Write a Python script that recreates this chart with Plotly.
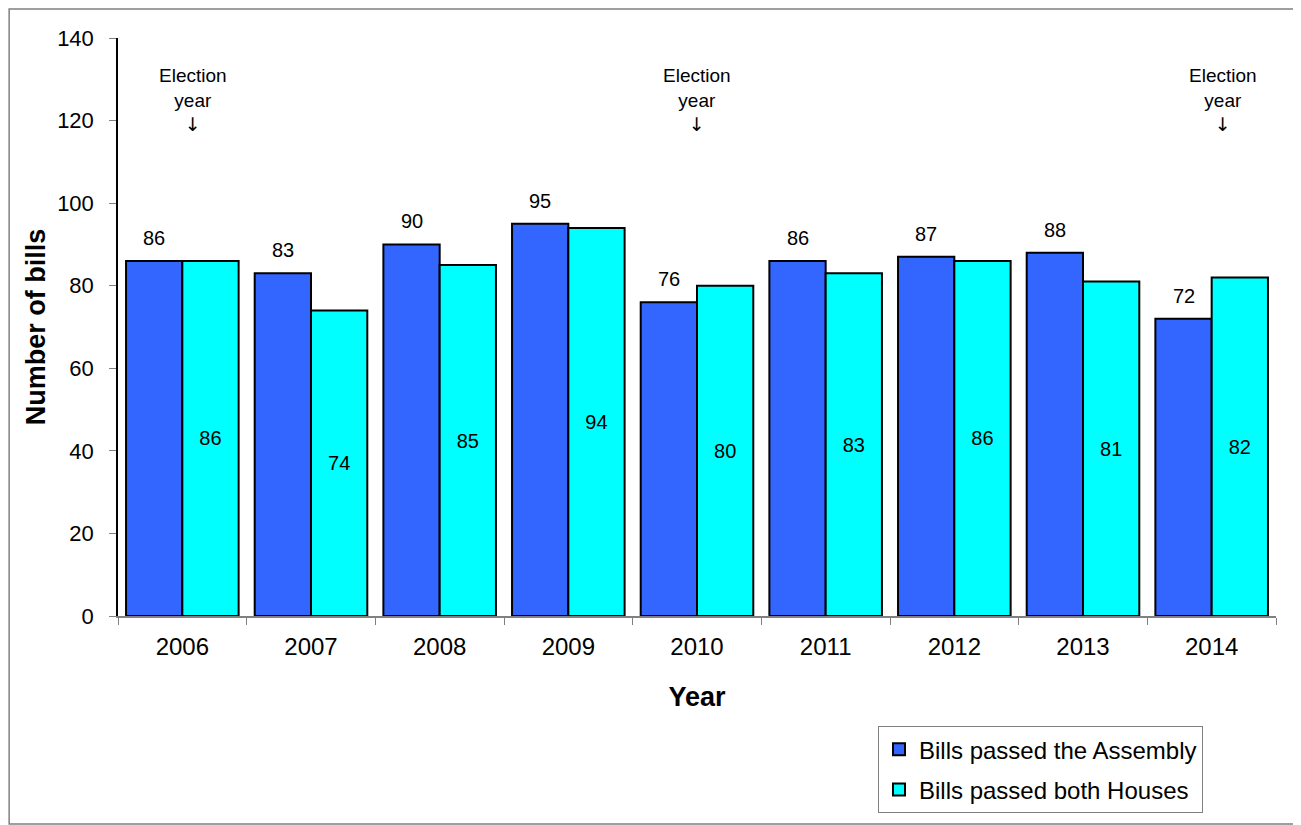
import plotly.graph_objects as go

years = ["2006", "2007", "2008", "2009", "2010", "2011", "2012", "2013", "2014"]
assembly = [86, 83, 90, 95, 76, 86, 87, 88, 72]
both_houses = [86, 74, 85, 94, 80, 83, 86, 81, 82]
election_years = ["2006", "2010", "2014"]
election_label = "Election<br>year<br><span style='font-family:DejaVu Sans'>↓</span>"
series_names = ["Bills passed the Assembly", "Bills passed both Houses"]
y_ticks = [0, 20, 40, 60, 80, 100, 120, 140]

FONT = "Liberation Sans, Arial, sans-serif"
BLUE = "#3366FF"
CYAN = "#00FFFF"

fig = go.Figure()
fig.add_trace(go.Bar(
    x=years, y=assembly, name=series_names[0],
    marker=dict(color=BLUE, line=dict(color="black", width=2)),
    legendgroup="a",
))
fig.add_trace(go.Bar(
    x=years, y=both_houses, name=series_names[1],
    marker=dict(color=CYAN, line=dict(color="black", width=2)),
    text=[str(v) for v in both_houses], textposition="inside",
    insidetextanchor="middle", textangle=0,
    textfont=dict(family=FONT, size=20, color="black"),
    legendgroup="b",
))

annotations = []
for i, v in enumerate(assembly):
    annotations.append(dict(
        x=i, y=v, xref="x", yref="y", text=str(v), showarrow=False,
        xshift=-28, yshift=23, yanchor="middle",
        font=dict(family=FONT, size=20, color="black"),
    ))
shifts = {"2006": 11, "2010": 0, "2014": 11}
for yr in election_years:
    annotations.append(dict(
        x=years.index(yr), y=125, xref="x", yref="y", text=election_label, showarrow=False,
        xshift=shifts.get(yr, 0), yanchor="middle", align="center",
        font=dict(family=FONT, size=19, color="black"),
    ))

fig.update_layout(
    width=1293, height=817,
    margin=dict(l=110, r=25, t=30, b=205),
    paper_bgcolor="white", plot_bgcolor="white",
    barmode="group", bargap=0.125, bargroupgap=0,
    font=dict(family=FONT, color="black"),
    showlegend=True,
    legend=dict(
        x=0.6563, y=-0.1907, xanchor="left", yanchor="top",
        bordercolor="#808080", borderwidth=1, bgcolor="white",
        font=dict(family=FONT, size=24, color="black"),
        traceorder="grouped", tracegroupgap=6, itemwidth=30,
        entrywidth=340, entrywidthmode="pixels",
    ),
    annotations=annotations,
    shapes=[dict(
        type="rect", xref="paper", yref="paper",
        x0=-0.0940, x1=1.0155, y0=-0.36, y1=1.0500,
        line=dict(color="#808080", width=1.5), fillcolor="rgba(0,0,0,0)",
        layer="below",
    )],
)
fig.update_xaxes(
    type="category", range=[-0.5, len(years) - 0.5],
    showline=True, linecolor="#808080", linewidth=1.5,
    ticks="outside", tickson="boundaries", ticklen=7, tickcolor="#808080",
    tickfont=dict(family=FONT, size=24, color="black"), tickangle=0,
    ticklabelstandoff=8,
    title=dict(text="<b>Year</b>", font=dict(family=FONT, size=27, color="black"), standoff=29),
    showgrid=False, zeroline=False,
)
fig.update_yaxes(
    range=[0, 140], tickvals=y_ticks, showline=True, linecolor="black", linewidth=1.5,
    ticks="outside", ticklen=7, tickcolor="#808080",
    tickfont=dict(family=FONT, size=22, color="black"),
    ticklabelstandoff=11,
    title=dict(text="<b>Number of bills</b>", font=dict(family=FONT, size=27, color="black"), standoff=4),
    showgrid=False, zeroline=False,
)

fig.write_html("out.html")
